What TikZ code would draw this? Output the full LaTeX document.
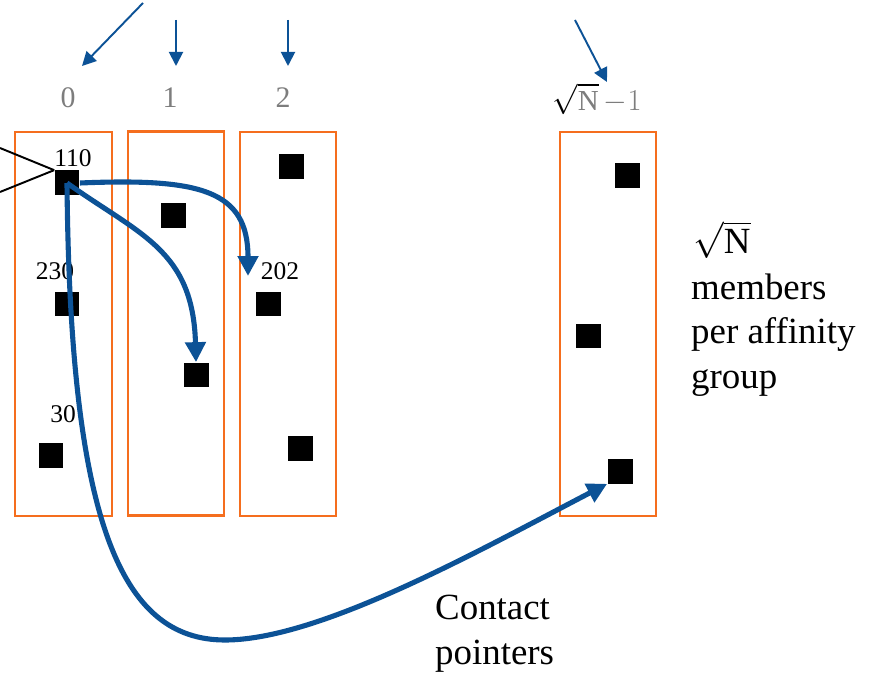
\documentclass[tikz,border=0pt]{standalone}
\usepackage{fontspec}
\setmainfont{Liberation Serif}
\usetikzlibrary{arrows.meta,positioning}
\definecolor{grporange}{RGB}{245,110,30}
\definecolor{ptrblue}{RGB}{12,82,150}
\definecolor{idxgray}{RGB}{125,125,125}
\tikzset{
    %Define standard arrow tip
    >={Triangle[length=4mm,width=4mm]},
    grp/.style={
      rectangle,
      draw=grporange, line width=1.2pt,
      minimum width=1.93cm,
      minimum height=7.68cm},
    memb/.style={
      rectangle,
      fill=black,
      minimum size=0.5cm, inner sep=0pt},
    idx/.style={
      text=idxgray,
      font=\fontsize{17}{20}\selectfont},
    nid/.style={
      inner sep=0pt,
      font=\fontsize{14.5}{17}\selectfont},
    ptr/.style={
      draw=ptrblue, line width=2.9pt, ->},
    topptr/.style={
      draw=ptrblue, line width=1.1pt,
      -{Triangle[length=2.8mm,width=2.8mm]}},
    big/.style={
      font=\fontsize{21}{25.5}\selectfont,
      align=left},
}

\begin{document}
\begin{tikzpicture}[x=0.02cm, y=-0.02cm]
    \useasboundingbox (0,0) rectangle (874,678);

    % affinity groups
    \node (g0) [grp] at (63.5,324) {};
    \node (g1) [grp] at (176,323.5) {};
    \node (g2) [grp] at (288,324) {};
    \node (g3) [grp] at (608,324) {};

    % group numbers
    \node (n0) [idx] at (68,98) {0};
    \node (n1) [idx] at (170,98) {1};
    \node (n2) [idx] at (283,98) {2};
    \node (n3) [idx, text=black, font=\fontsize{16.5}{19}\selectfont] at (597,99)
          {$\sqrt{\textcolor{idxgray}{\mathrm{N}}}\textcolor{idxgray}{\,{-}1}$};

    % members
    \node (s110) [memb] at (67,183) {};
    \node (s230) [memb] at (67,304) {};
    \node (s30)  [memb] at (51,455) {};
    \node (s11)  [memb] at (173,216) {};
    \node (s12)  [memb] at (196,375) {};
    \node (s21)  [memb] at (291,167) {};
    \node (s202) [memb] at (268,304) {};
    \node (s23)  [memb] at (300,448) {};
    \node (s31)  [memb] at (627,176) {};
    \node (s32)  [memb] at (588,336) {};
    \node (s33)  [memb] at (620,471) {};

    \node (l110) [nid] at (73,158) {110};
    \node (l230) [nid] at (55,271) {230};
    \node (l30)  [nid] at (63,414) {30};
    \node (l202) [nid] at (280,271) {202};

    % top arrows
    \coordinate (t0) at (143,3);
    \coordinate (h0) at (82,66);
    \coordinate (t1) at (176,20);
    \coordinate (h1) at (176,66);
    \coordinate (t2) at (288,20);
    \coordinate (h2) at (288,66);
    \coordinate (t3) at (575,20);
    \coordinate (h3) at (607,82);
    \draw [topptr] (t0) -- (h0);
    \draw [topptr] (t1) -- (h1);
    \draw [topptr] (t2) -- (h2);
    \draw [topptr] (t3) -- (h3);

    % lines in from the left
    \coordinate (e1) at (0,148);
    \coordinate (e2) at (0,192);
    \draw [line width=1.1pt] (e1) -- (s110.north west);
    \draw [line width=1.1pt] (e2) -- (s110.north west);

    % contact pointers
    \coordinate (c202) at (248,276);
    \draw [ptr] (s110.east) .. controls (200,178) and (248,190) .. (c202);
    \draw [ptr] (s110.center) .. controls (140,235) and (193,250) .. (s12.north);
    \draw [ptr] (s110.center) .. controls (70,520) and (120,640) .. (225,640)
                              .. controls (320,640) and (480,550) .. (s33.south west);

    % texts
    \node (rootn) [big] at (722,240) {$\sqrt{\mathrm{N}}$};
    \node (membtxt) [big, anchor=west] at (685,335)
          {members\\per affinity\\group};
    \node (cptxt) [big, anchor=west] at (429,634)
          {Contact\\pointers};
\end{tikzpicture}
\end{document}
